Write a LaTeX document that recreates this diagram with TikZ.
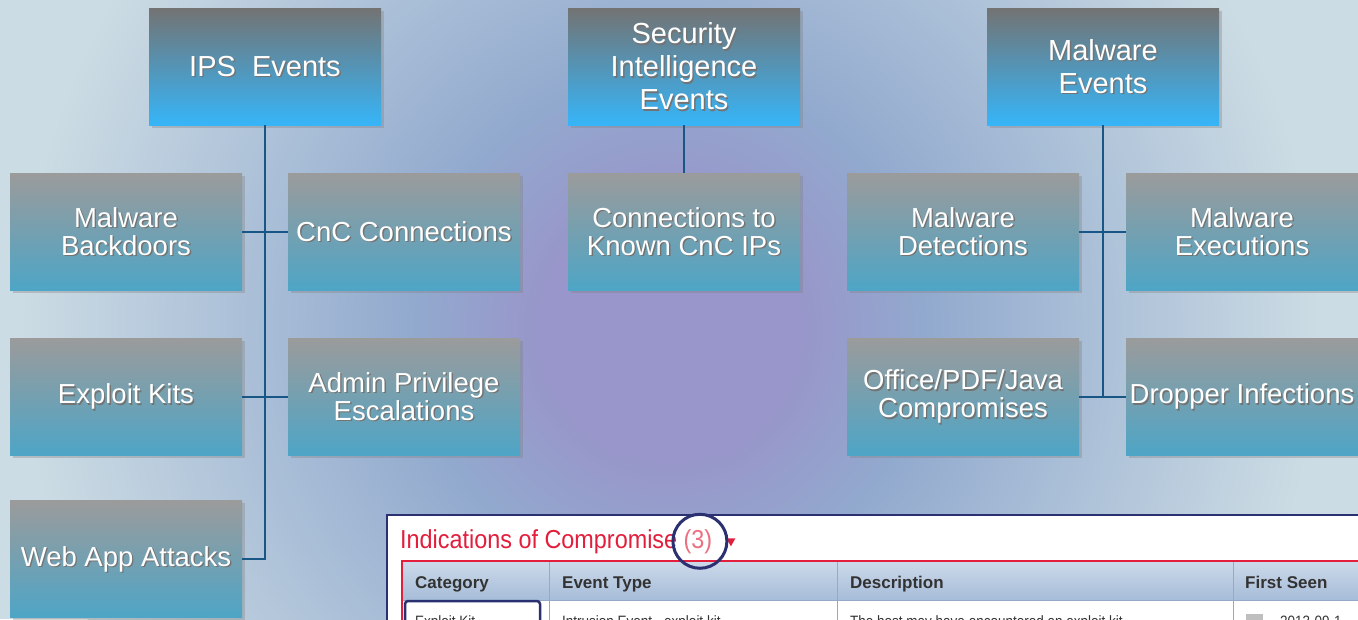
\documentclass[tikz,border=0pt]{standalone}
\usepackage{fontspec}
\setmainfont{Liberation Sans}
\newfontfamily\narrowsf[FakeStretch=0.9]{Liberation Sans}
\usetikzlibrary{shadows}
\definecolor{bgedge}{RGB}{204,220,228}
\definecolor{bgring}{RGB}{146,170,206}
\definecolor{bgmid}{RGB}{152,150,202}
\definecolor{topgray}{RGB}{115,115,115}
\definecolor{topblue}{RGB}{54,181,248}
\definecolor{subgray}{RGB}{155,155,155}
\definecolor{subteal}{RGB}{78,165,198}
\definecolor{linkblue}{RGB}{24,86,134}
\definecolor{iocred}{RGB}{226,30,60}
\definecolor{iocpink}{RGB}{234,112,130}
\definecolor{iocnavy}{RGB}{42,48,112}
\definecolor{hdrtop}{RGB}{204,217,234}
\definecolor{hdrbot}{RGB}{166,188,216}
\definecolor{hdrline}{RGB}{150,170,198}
\pgfdeclareradialshading{bgglow}{\pgfpoint{0bp}{0bp}}{color(0bp)=(bgmid); color(5bp)=(bgmid); color(10bp)=(bgring); color(25bp)=(bgedge); color(50bp)=(bgedge)}
\newcommand\topfont{\fontsize{29}{33}\selectfont}
\newcommand\subfont{\fontsize{27.5}{28}\selectfont}
\newcommand\iocfont{\narrowsf\fontsize{26}{28}\selectfont}
\newcommand\hdrfont{\bfseries\fontsize{17}{20}\selectfont}
\newcommand\rowfont{\narrowsf\fontsize{15}{18}\selectfont}

\begin{document}
\begin{tikzpicture}[x=1pt,y=-1pt,
    basebox/.style={minimum width=232pt,minimum height=117pt,inner sep=0pt,
      align=center,text=white,
      drop shadow={shadow xshift=2.5pt,shadow yshift=-2.5pt,opacity=0.35}},
    topbox/.style={basebox,top color=topgray,bottom color=topblue,font=\topfont,
      path picture={\node[text=black!55,align=center,font=\topfont]
        at ([xshift=1.4pt,yshift=-1.4pt]path picture bounding box.center) {#1};}},
    subbox/.style={basebox,top color=subgray,bottom color=subteal,font=\subfont,
      path picture={\node[text=black!55,align=center,font=\subfont]
        at ([xshift=1.4pt,yshift=-1.4pt]path picture bounding box.center) {#1};}},
    link/.style={linkblue,line width=2pt},
    hdr/.style={anchor=base west,inner sep=0pt,text=black!80,font=\hdrfont},
    cell/.style={anchor=base west,inner sep=0pt,text=black!80,font=\rowfont}]
    \useasboundingbox (0,0) rectangle (1358,619);
    \clip (0,0) rectangle (1358,619);
    % background
    \fill[bgedge] (0,0) rectangle (1358,619);
    \shade[shading=bgglow] (670,330) circle (650);
    % top level
    \node[topbox={IPS~~Events}] (ips) at (265,66.5) {IPS~~Events};
    \node[topbox={Security\\Intelligence\\Events}] (sie) at (684,66.5) {Security\\Intelligence\\Events};
    \node[topbox={Malware\\Events}] (mwe) at (1103,66.5) {Malware\\Events};
    % event kinds
    \node[subbox={Malware\\Backdoors}] (mb) at (126,231.5) {Malware\\Backdoors};
    \node[subbox={CnC Connections}] (cnc) at (404,231.5) {CnC Connections};
    \node[subbox={Exploit Kits}] (ek) at (126,396.5) {Exploit Kits};
    \node[subbox={Admin Privilege\\Escalations}] (ape) at (404,396.5) {Admin Privilege\\Escalations};
    \node[subbox={Web App Attacks}] (waa) at (126,559) {Web App Attacks};
    \node[subbox={Connections to\\Known CnC IPs}] (kcnc) at (684,231.5) {Connections to\\Known CnC IPs};
    \node[subbox={Malware\\Detections}] (md) at (963,231.5) {Malware\\Detections};
    \node[subbox={Malware\\Executions}] (mx) at (1242,231.5) {Malware\\Executions};
    \node[subbox={Office/PDF/Java\\Compromises}] (opj) at (963,396.5) {Office/PDF/Java\\Compromises};
    \node[subbox={Dropper Infections}] (di) at (1242,396.5) {Dropper Infections};
    % connectors
    \draw[link] (ips.south) |- (waa.east);
    \draw[link] (mb.east) -- (cnc.west);
    \draw[link] (ek.east) -- (ape.west);
    \draw[link] (sie.south) -- (kcnc.north);
    \draw[link] (mwe.south) -- (mwe.south |- opj.east);
    \draw[link] (md.east) -- (mx.west);
    \draw[link] (opj.east) -- (di.west);
    % screenshot of the IoC table
    \fill[white] (387,515) rectangle (1370,640);
    \shade[top color=hdrtop,bottom color=hdrbot] (403,562) rectangle (1370,600);
    \draw[hdrline] (403,600) -- (1370,600);
    \foreach \x in {549,837,1233} \draw[hdrline] (\x,562) -- (\x,640);
    \draw[iocred,line width=2pt] (402,640) -- (402,561) -- (1370,561);
    \draw[iocnavy,line width=1.5pt] (387,640) -- (387,515) -- (1370,515);
    \node[anchor=base west,inner sep=0pt,text=iocred,font=\iocfont] (ioc) at (400,548) {Indications of Compromise};
    \node[anchor=base west,inner sep=0pt,text=iocpink,font=\iocfont] (cnt) at ([xshift=6pt]ioc.base east) {(3)};
    \fill[iocred] ([xshift=14pt,yshift=3pt]cnt.east) -- ++(9,0) -- ++(-4.5,8) -- cycle;
    \node[circle,draw=iocnavy,line width=3pt,minimum size=54pt] (ring) at ([xshift=2pt]cnt.center) {};
    \node[hdr] (hcat) at (415,588) {Category};
    \node[hdr] (htype) at (562,588) {Event Type};
    \node[hdr] (hdesc) at (850,588) {Description};
    \node[hdr] (hseen) at (1245,588) {First Seen};
    \node[cell] (ccat) at (415,626) {Exploit Kit};
    \node[cell] (ctype) at (562,626) {Intrusion Event - exploit kit};
    \node[cell] (cdesc) at (850,626) {The host may have encountered an exploit kit};
    \fill[black!25] (1246,614) rectangle (1263,626);
    \node[cell] (cseen) at (1280,626) {2013-09-1};
    \draw[iocnavy,line width=2.5pt,rounded corners=3pt] (405,601) rectangle (540,640);
\end{tikzpicture}
\end{document}
